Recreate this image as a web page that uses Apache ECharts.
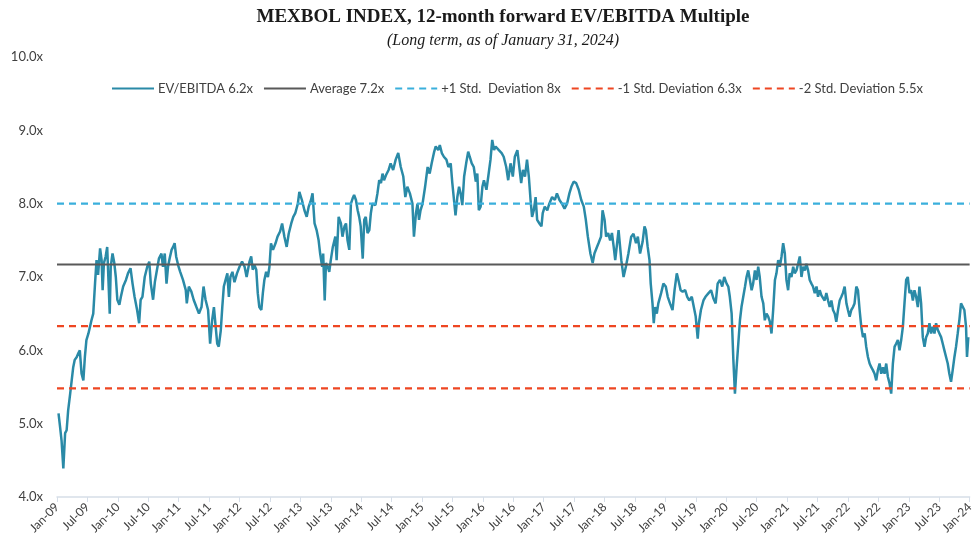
<!DOCTYPE html>
<html>
<head>
<meta charset="utf-8">
<title>MEXBOL EV/EBITDA</title>
<script src="https://cdn.jsdelivr.net/npm/echarts@6/dist/echarts.min.js"></script>
<style>
    html, body { margin: 0; padding: 0; background: #fff; }
    #chart { width: 976px; height: 547px; }
</style>
</head>
<body>
<div id="chart"></div>
<script>
// x = months since Jan-09, ticks every 6 months
const tickLabels = [
    'Jan-09', 'Jul-09', 'Jan-10', 'Jul-10', 'Jan-11', 'Jul-11', 'Jan-12', 'Jul-12',
    'Jan-13', 'Jul-13', 'Jan-14', 'Jul-14', 'Jan-15', 'Jul-15', 'Jan-16', 'Jul-16',
    'Jan-17', 'Jul-17', 'Jan-18', 'Jul-18', 'Jan-19', 'Jul-19', 'Jan-20', 'Jul-20',
    'Jan-21', 'Jul-21', 'Jan-22', 'Jul-22', 'Jan-23', 'Jul-23', 'Jan-24'
];

// [month, multiple]
const evEbitda = [
    [0.3, 5.14], [0.6, 4.96], [0.9, 4.77], [1.25, 4.39], [1.6, 4.87], [1.9, 4.91], [2.2, 5.18], [2.6, 5.41],
    [2.9, 5.59], [3.2, 5.77], [3.5, 5.87], [3.9, 5.91], [4.2, 5.96], [4.5, 6.00], [4.85, 5.68], [5.2, 5.59],
    [5.5, 5.91], [5.8, 6.14], [6.2, 6.23], [6.5, 6.32], [6.8, 6.41], [7.15, 6.50], [7.5, 6.91], [7.8, 7.23],
    [8.1, 7.03], [8.5, 7.39], [8.8, 7.23], [9.0, 6.82], [9.25, 7.19], [9.6, 7.28], [9.9, 7.41], [10.1, 7.43],
    [10.4, 6.50], [10.6, 7.14], [10.95, 7.32], [11.3, 7.19], [11.6, 7.00], [11.9, 6.69], [12.3, 6.62], [12.6, 6.73],
    [13.05, 6.87], [13.6, 6.96], [14.0, 7.05], [14.5, 7.12], [14.9, 6.91], [15.3, 6.73], [15.8, 6.55], [16.2, 6.37],
    [16.5, 6.69], [16.85, 6.73], [17.3, 7.00], [17.8, 7.14], [18.2, 7.21], [18.5, 6.91], [18.95, 6.69], [19.3, 6.93],
    [19.6, 7.05], [20.1, 7.25], [20.6, 7.32], [20.9, 7.14], [21.25, 7.32], [21.6, 6.91], [21.9, 7.14], [22.2, 7.25],
    [22.6, 7.37], [22.9, 7.41], [23.2, 7.46], [23.5, 7.28], [23.9, 7.16], [24.3, 7.07], [24.85, 6.96], [25.4, 6.82],
    [25.6, 6.64], [26.0, 6.87], [26.5, 6.80], [26.95, 6.69], [27.5, 6.59], [28.0, 6.50], [28.5, 6.59], [28.9, 6.87],
    [29.3, 6.69], [29.8, 6.55], [30.2, 6.09], [30.6, 6.41], [30.95, 6.59], [31.3, 6.32], [31.6, 6.09], [31.9, 6.05],
    [32.3, 6.27], [32.6, 6.59], [32.9, 6.87], [33.25, 6.96], [33.6, 7.05], [33.9, 6.73], [34.2, 7.00], [34.6, 7.07],
    [35.0, 6.93], [35.5, 7.05], [36.0, 7.14], [36.5, 7.21], [37.0, 7.14], [37.4, 7.00], [37.97, 7.21], [38.3, 7.28],
    [38.6, 7.10], [38.95, 7.16], [39.3, 7.10], [39.6, 6.78], [39.9, 6.59], [40.3, 6.55], [40.6, 6.78], [40.9, 6.96],
    [41.25, 7.07], [41.6, 7.00], [41.9, 7.14], [42.2, 7.46], [42.6, 7.37], [43.1, 7.46], [43.5, 7.55], [44.0, 7.62],
    [44.4, 7.73], [44.85, 7.55], [45.3, 7.41], [45.7, 7.59], [46.2, 7.73], [46.6, 7.82], [47.0, 7.87], [47.5, 8.00],
    [47.8, 8.16], [48.3, 8.05], [48.8, 7.91], [49.25, 7.82], [49.65, 7.96], [50.1, 8.05], [50.4, 8.14], [50.8, 7.73],
    [51.2, 7.64], [51.6, 7.50], [51.9, 7.32], [52.3, 7.14], [52.5, 7.32], [52.8, 6.68], [53.05, 7.19], [53.4, 7.14],
    [53.7, 7.07], [54.0, 7.23], [54.4, 7.41], [54.9, 7.55], [55.15, 7.23], [55.55, 7.82], [56.0, 7.73], [56.3, 7.55],
    [56.7, 7.69], [57.0, 7.73], [57.3, 7.50], [57.65, 7.37], [57.97, 8.00], [58.3, 8.07], [58.6, 8.12], [58.96, 8.05],
    [59.3, 7.91], [59.6, 7.82], [59.9, 7.69], [60.3, 7.25], [60.6, 7.78], [60.9, 7.82], [61.25, 7.60], [61.6, 7.64],
    [61.9, 7.87], [62.2, 8.00], [62.8, 7.98], [63.2, 8.14], [63.55, 8.32], [63.9, 8.28], [64.2, 8.41], [64.5, 8.32],
    [64.9, 8.39], [65.4, 8.46], [65.8, 8.55], [66.3, 8.46], [66.8, 8.60], [67.3, 8.69], [67.8, 8.50], [68.3, 8.37],
    [68.7, 8.09], [69.1, 8.23], [69.6, 8.14], [70.1, 8.00], [70.4, 7.55], [70.8, 7.87], [71.1, 8.00], [71.4, 7.78],
    [71.7, 7.91], [72.1, 8.00], [72.6, 8.23], [73.1, 8.50], [73.5, 8.41], [73.9, 8.55], [74.4, 8.71], [74.7, 8.78],
    [75.2, 8.73], [75.5, 8.80], [75.9, 8.69], [76.3, 8.64], [76.8, 8.60], [77.2, 8.50], [77.65, 8.55], [77.97, 8.28],
    [78.3, 8.05], [78.6, 7.84], [78.96, 8.09], [79.3, 8.23], [79.6, 8.14], [79.94, 7.98], [80.3, 8.37], [80.7, 8.55],
    [81.1, 8.71], [81.4, 8.64], [81.8, 8.55], [82.2, 8.50], [82.6, 8.30], [82.9, 8.41], [83.2, 7.91], [83.55, 7.96],
    [83.9, 8.23], [84.2, 8.32], [84.7, 8.19], [85.06, 8.37], [85.5, 8.60], [85.84, 8.87], [86.2, 8.73], [86.5, 8.78],
    [86.8, 8.80], [87.15, 8.73], [87.7, 8.69], [88.1, 8.64], [88.6, 8.50], [88.99, 8.32], [89.45, 8.55], [89.9, 8.37],
    [90.3, 8.64], [90.8, 8.73], [91.1, 8.55], [91.55, 8.28], [91.9, 8.46], [92.3, 8.37], [92.7, 8.60], [93.06, 8.37],
    [93.4, 8.05], [93.7, 7.82], [94.04, 7.91], [94.4, 8.09], [94.7, 7.78], [95.15, 7.73], [95.55, 7.69], [95.8, 7.87],
    [96.2, 7.96], [96.7, 7.91], [97.1, 8.00], [97.65, 8.09], [98.2, 8.05], [98.6, 8.14], [99.1, 8.05], [99.6, 8.00],
    [100.1, 7.93], [100.6, 8.00], [101.06, 8.14], [101.45, 8.23], [101.9, 8.30], [102.4, 8.28], [102.9, 8.19], [103.4, 8.05],
    [103.9, 7.96], [104.3, 7.78], [104.7, 7.55], [105.2, 7.32], [105.65, 7.19], [106.0, 7.32], [106.5, 7.41], [106.8, 7.46],
    [107.3, 7.55], [107.6, 7.91], [108.0, 7.78], [108.3, 7.55], [108.7, 7.60], [109.1, 7.50], [109.45, 7.60], [109.8, 7.41],
    [110.1, 7.23], [110.76, 7.64], [111.3, 7.23], [111.74, 7.00], [112.2, 7.14], [112.7, 7.32], [113.25, 7.55], [113.7, 7.59],
    [114.2, 7.46], [114.56, 7.55], [115.0, 7.32], [115.5, 7.48], [115.87, 7.69], [116.14, 7.64], [116.5, 7.41], [116.86, 7.23],
    [117.1, 6.91], [117.45, 6.64], [117.7, 6.37], [117.97, 6.59], [118.3, 6.50], [118.6, 6.64], [119.15, 6.78], [119.6, 6.91],
    [120.07, 6.87], [120.46, 6.73], [120.9, 6.64], [121.4, 6.55], [121.8, 6.82], [122.24, 7.05], [122.56, 6.96], [123.0, 6.82],
    [123.4, 6.80], [123.9, 6.82], [124.3, 6.73], [124.7, 6.68], [125.2, 6.73], [125.6, 6.59], [125.97, 6.46], [126.37, 6.16],
    [126.6, 6.37], [127.0, 6.55], [127.5, 6.68], [127.9, 6.73], [128.5, 6.78], [129.0, 6.82], [129.45, 6.71], [129.9, 6.64],
    [130.3, 6.91], [130.76, 6.96], [131.2, 6.87], [131.6, 7.00], [132.07, 6.91], [132.4, 6.87], [132.7, 6.73], [133.06, 6.50],
    [133.4, 5.87], [133.71, 5.41], [134.04, 5.77], [134.37, 6.09], [134.7, 6.41], [135.0, 6.59], [135.35, 6.73], [135.7, 6.87],
    [136.0, 7.00], [136.33, 7.09], [136.66, 6.96], [137.0, 6.82], [137.3, 6.91], [137.65, 7.09], [137.97, 6.96], [138.3, 7.14],
    [138.6, 7.00], [138.96, 6.73], [139.3, 6.64], [139.6, 6.41], [139.94, 6.50], [140.27, 6.46], [140.6, 6.39], [140.92, 6.23],
    [141.25, 6.55], [141.6, 6.96], [141.9, 7.05], [142.24, 7.23], [142.56, 7.14], [142.9, 7.28], [143.22, 7.46], [143.55, 7.32],
    [143.87, 6.96], [144.2, 6.82], [144.5, 7.05], [144.86, 7.00], [145.2, 7.14], [145.5, 7.05], [145.84, 7.09], [146.17, 7.18],
    [146.5, 7.28], [146.83, 7.00], [147.15, 7.14], [147.5, 7.09], [147.8, 7.18], [148.14, 7.09], [148.46, 6.96], [148.8, 6.91],
    [149.1, 6.87], [149.45, 6.78], [149.8, 6.87], [150.1, 6.73], [150.43, 6.82], [150.76, 6.75], [151.1, 6.73], [151.4, 6.68],
    [151.74, 6.78], [152.07, 6.68], [152.4, 6.59], [152.73, 6.68], [153.06, 6.55], [153.4, 6.50], [153.7, 6.39], [154.04, 6.55],
    [154.37, 6.68], [154.7, 6.73], [155.0, 6.78], [155.35, 6.87], [155.7, 6.64], [156.0, 6.55], [156.33, 6.46], [156.66, 6.55],
    [157.0, 6.59], [157.3, 6.64], [157.65, 6.87], [157.97, 6.82], [158.3, 6.55], [158.63, 6.32], [158.96, 6.18], [159.3, 6.23],
    [159.6, 6.05], [159.94, 5.91], [160.27, 5.82], [160.6, 5.77], [160.92, 5.73], [161.25, 5.68], [161.58, 5.59], [161.9, 5.73],
    [162.24, 5.82], [162.56, 5.68], [162.9, 5.77], [163.22, 5.68], [163.55, 5.82], [163.87, 5.64], [164.2, 5.55], [164.53, 5.41],
    [164.86, 5.82], [165.2, 6.05], [165.5, 6.09], [165.84, 6.14], [166.17, 6.00], [166.5, 6.14], [166.83, 6.32], [167.15, 6.64],
    [167.48, 6.96], [167.8, 7.00], [168.14, 6.78], [168.47, 6.82], [168.8, 6.68], [169.12, 6.82], [169.45, 6.73], [169.78, 6.59],
    [170.1, 6.87], [170.43, 6.64], [170.76, 6.18], [171.1, 6.05], [171.42, 6.18], [171.74, 6.23], [172.07, 6.37], [172.4, 6.23],
    [172.73, 6.32], [173.06, 6.23], [173.38, 6.37], [173.71, 6.28], [174.04, 6.23], [174.37, 6.18], [174.7, 6.09], [175.02, 6.00],
    [175.35, 5.91], [175.68, 5.82], [176.0, 5.68], [176.33, 5.57], [176.66, 5.73], [177.0, 5.91], [177.32, 6.05], [177.65, 6.23],
    [177.97, 6.41], [178.3, 6.64], [178.63, 6.66], [178.96, 6.55], [179.29, 6.32], [179.48, 5.91], [179.74, 6.18]
];

// reference levels
const levelNames = ['Average 7.2x', '+1 Std.  Deviation 8x', '-1 Std. Deviation 6.3x', '-2 Std. Deviation 5.5x'];
const levelValues = [7.17, 8.0, 6.33, 5.48];
const levelColors = ['#595959', '#3AAFDC', '#EE4622', '#EE4622'];
const levelDashed = [false, true, true, true];

const FONT = 'Lato, "Open Sans", sans-serif';
const chart = echarts.init(document.getElementById('chart'), null, { renderer: 'canvas' });

const levelSeries = levelNames.map((name, i) => ({
    name,
    type: 'line',
    symbol: 'none',
    silent: true,
    data: [[0, levelValues[i]], [180, levelValues[i]]],
    lineStyle: {
        color: levelColors[i],
        width: levelDashed[i] ? 2.2 : 2,
        type: levelDashed[i] ? [7, 5] : 'solid'
    },
    // opacity 0 hides the circle the legend draws for line series
    itemStyle: { color: levelColors[i], opacity: 0 }
}));

chart.setOption({
    animation: false,
    backgroundColor: '#fff',
    title: {
        text: 'MEXBOL INDEX, 12-month forward EV/EBITDA Multiple',
        subtext: '(Long term, as of January 31, 2024)',
        left: 498,
        textAlign: 'center',
        top: 3,
        itemGap: 6,
        textStyle: {
            fontFamily: '"Liberation Serif", serif',
            fontWeight: 'bold',
            fontSize: 19,
            color: '#1a1a1a'
        },
        subtextStyle: {
            fontFamily: '"Liberation Serif", serif',
            fontStyle: 'italic',
            fontSize: 16,
            color: '#1a1a1a'
        }
    },
    legend: {
        top: 77,
        left: 106,
        itemWidth: 42,
        itemHeight: 10,
        itemGap: 10,
        itemStyle: { opacity: 0 },
        textStyle: { fontFamily: FONT, fontSize: 13, color: '#404040', padding: [0, 0, 0, -1] },
        data: ['EV/EBITDA 6.2x'].concat(levelNames)
    },
    grid: { left: 57, right: 4, top: 57, bottom: 50, containLabel: false },
    xAxis: {
        type: 'value',
        min: 0,
        max: 180,
        interval: 6,
        axisLine: { lineStyle: { color: '#D6DEE8', width: 1.5 } },
        axisTick: { show: true, length: 5, lineStyle: { color: '#D6DEE8' } },
        splitLine: { show: false },
        axisLabel: {
            rotate: 45,
            margin: 8,
            fontFamily: FONT,
            fontSize: 12,
            color: '#404040',
            formatter: v => tickLabels[Math.round(v / 6)]
        }
    },
    yAxis: {
        type: 'value',
        min: 4,
        max: 10,
        interval: 1,
        axisLine: { show: false },
        axisTick: { show: false },
        splitLine: { show: false },
        axisLabel: {
            margin: 14,
            fontFamily: FONT,
            fontSize: 13,
            color: '#404040',
            formatter: v => v.toFixed(1) + 'x'
        }
    },
    series: [{
        name: 'EV/EBITDA 6.2x',
        type: 'line',
        symbol: 'none',
        data: evEbitda,
        lineStyle: { color: '#2A8AA7', width: 2.5 },
        itemStyle: { color: '#2A8AA7', opacity: 0 }
    }].concat(levelSeries)
});
</script>
</body>
</html>
